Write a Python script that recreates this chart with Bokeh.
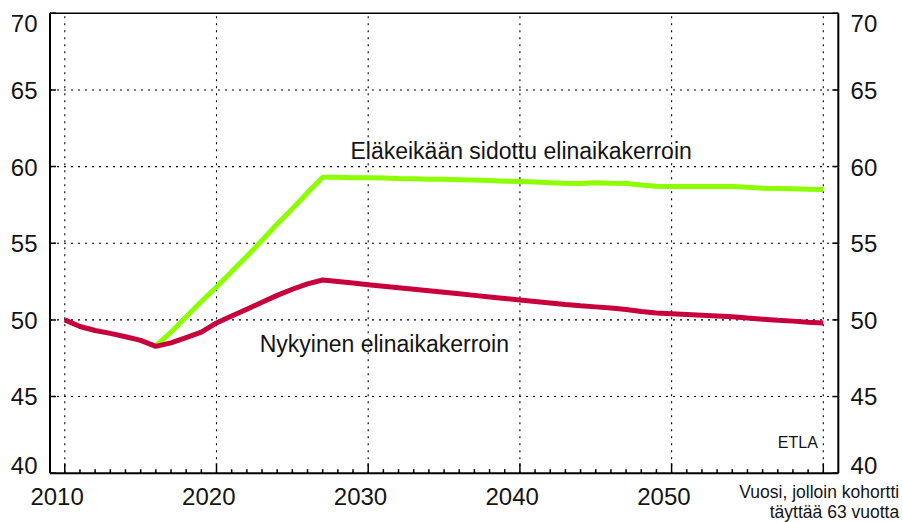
from bokeh.plotting import figure
from bokeh.models import Range1d, ColumnDataSource
from bokeh.core.properties import value
from bokeh.embed import file_html
from bokeh.resources import INLINE

# ---------------- data ----------------
years = list(range(2010, 2061))
current_factor = [
    50.0, 49.57, 49.31, 49.12, 48.9, 48.66, 48.27, 48.5, 48.85, 49.2,
    49.8, 50.25, 50.7, 51.15, 51.6, 52.0, 52.35, 52.6, 52.5, 52.4,
    52.3, 52.2, 52.1, 52.0, 51.9, 51.8, 51.7, 51.6, 51.5, 51.4,
    51.3, 51.2, 51.1, 51.0, 50.92, 50.85, 50.77, 50.68, 50.55, 50.45,
    50.4, 50.35, 50.3, 50.25, 50.2, 50.12, 50.05, 49.98, 49.92, 49.85,
    49.8,
]
linked_years = list(range(2016, 2061))
linked_factor = [
    48.3, 49.2, 50.2, 51.2, 52.15, 53.15, 54.15, 55.2, 56.25, 57.25,
    58.3, 59.3, 59.3, 59.28, 59.27, 59.25, 59.22, 59.2, 59.18, 59.17,
    59.15, 59.12, 59.1, 59.05, 59.03, 59.0, 58.95, 58.92, 58.9, 58.95,
    58.92, 58.9, 58.8, 58.72, 58.7, 58.7, 58.7, 58.7, 58.7, 58.65,
    58.58, 58.57, 58.55, 58.52, 58.5,
]
x_major_ticks = [2010, 2020, 2030, 2040, 2050, 2060]
x_tick_values = [2010, 2020, 2030, 2040, 2050]
x_tick_labels = ["2010", "2020", "2030", "2040", "2050"]
y_tick_values = [40, 45, 50, 55, 60, 65, 70]
y_tick_labels = ["40", "45", "50", "55", "60", "65", "70"]

label_linked = "Eläkeikään sidottu elinaikakerroin"
label_current = "Nykyinen elinaikakerroin"
source_text = "ETLA"
x_title_lines = ["Vuosi, jolloin kohortti", "täyttää 63 vuotta"]

# ---------------- layout / styling ----------------
W, H = 903, 522
FONT = "Liberation Sans"
TXT = "#141414"
GREEN = "#8CFF00"
RED = "#C8003C"
# plot box in data units
X0, X1 = 2009.024, 2060.99
Y0, Y1 = 40, 70
# canvas spans these data ranges (frame = whole canvas)
XS, XE = 2005.761, 2065.287
YS, YE = 36.784, 70.835
PXX = W / (XE - XS)   # pixels per year
PXY = H / (YE - YS)   # pixels per unit
BASE_FIX = 0.34       # baseline correction, in em

p = figure(width=W, height=H, x_range=Range1d(XS, XE), y_range=Range1d(YS, YE),
           output_backend="svg", toolbar_location=None,
           x_axis_location=None, y_axis_location=None,
           min_border=0, min_border_left=0, min_border_right=0,
           min_border_top=0, min_border_bottom=0)
p.outline_line_color = None
p.background_fill_color = "white"
p.border_fill_color = "white"
p.grid.visible = False

# dotted grid
grid_x = x_major_ticks
grid_y = y_tick_values[1:-1]
p.segment(x0=grid_x, y0=[Y0] * len(grid_x), x1=grid_x, y1=[Y1] * len(grid_x),
          line_color="black", line_width=1.1, line_dash="2 5")
p.segment(x0=[X0] * len(grid_y), y0=grid_y, x1=[X1] * len(grid_y), y1=grid_y,
          line_color="black", line_width=1.1, line_dash="2 5")

# series
p.line(linked_years, linked_factor, line_color=GREEN, line_width=5)
p.line(years, current_factor, line_color=RED, line_width=5)

# box: left, bottom, right axis lines and top border
p.segment(x0=[X0, X0, X1], y0=[Y0, Y0, Y0], x1=[X0, X1, X1], y1=[Y1, Y0, Y1],
          line_color="black", line_width=2)
p.segment(x0=[X0], y0=[Y1], x1=[X1], y1=[Y1], line_color="black", line_width=1.5)

# ticks (inward)
minor = [yr for yr in range(x_major_ticks[0], x_major_ticks[-1] + 1) if yr not in x_major_ticks]
p.segment(x0=x_major_ticks, y0=[Y0] * len(x_major_ticks), x1=x_major_ticks,
          y1=[Y0 + 10 / PXY] * len(x_major_ticks), line_color="black", line_width=1.5)
p.segment(x0=minor, y0=[Y0] * len(minor), x1=minor, y1=[Y0 + 4 / PXY] * len(minor),
          line_color="black", line_width=1.5)
ny = len(y_tick_values)
p.segment(x0=[X0] * ny, y0=y_tick_values, x1=[X0 + 6 / PXX] * ny, y1=y_tick_values,
          line_color="black", line_width=1.5)
p.segment(x0=[X1 - 6 / PXX] * ny, y0=y_tick_values, x1=[X1] * ny, y1=y_tick_values,
          line_color="black", line_width=1.5)

# tick labels
TICK_PX = 24
fix = BASE_FIX * TICK_PX
yoff = [((18 if t == max(y_tick_values) else (0 if t == min(y_tick_values) else 8.6)) - fix)
        for t in y_tick_values]
ysrc = ColumnDataSource(dict(y=y_tick_values, text=y_tick_labels,
                             xl=[X0] * ny, xr=[X1] * ny, yoff=yoff))
tick_style = dict(text_font=value(FONT), text_font_size=f"{TICK_PX}px", text_color=TXT,
                  text_baseline="alphabetic")
p.text(x="xl", y="y", text="text", source=ysrc, x_offset=-12.5, y_offset="yoff",
       text_align="right", **tick_style)
p.text(x="xr", y="y", text="text", source=ysrc, x_offset=12.3, y_offset="yoff",
       text_align="left", **tick_style)
nx = len(x_tick_values)
p.text(x=x_tick_values, y=[Y0] * nx, text=x_tick_labels, x_offset=-7.7,
       y_offset=31.6 - fix, text_align="center", **tick_style)

# axis title (two right-aligned lines)
TITLE_PX = 17.5
p.text(x=[2065.0, 2065.0], y=[38.37, 37.05], text=x_title_lines,
       y_offset=-BASE_FIX * TITLE_PX,
       text_align="right", text_baseline="alphabetic", text_font=value(FONT),
       text_font_size=f"{TITLE_PX}px", text_color=TXT)

# series labels and source
LBL_PX = 23
ann = dict(text_font=value(FONT), text_color=TXT, text_baseline="alphabetic",
           text_font_size=f"{LBL_PX}px", text_align="left",
           y_offset=-BASE_FIX * LBL_PX)
p.text(x=[2028.83], y=[60.53], text=[label_linked], **ann)
p.text(x=[2022.85], y=[47.89], text=[label_current], **ann)
SRC_PX = 16
p.text(x=[2059.64], y=[41.66], text=[source_text], text_font=value(FONT),
       text_color=TXT, text_baseline="alphabetic", text_font_size=f"{SRC_PX}px",
       text_align="right", y_offset=-BASE_FIX * SRC_PX)

open("out.html", "w").write(file_html(p, INLINE))
